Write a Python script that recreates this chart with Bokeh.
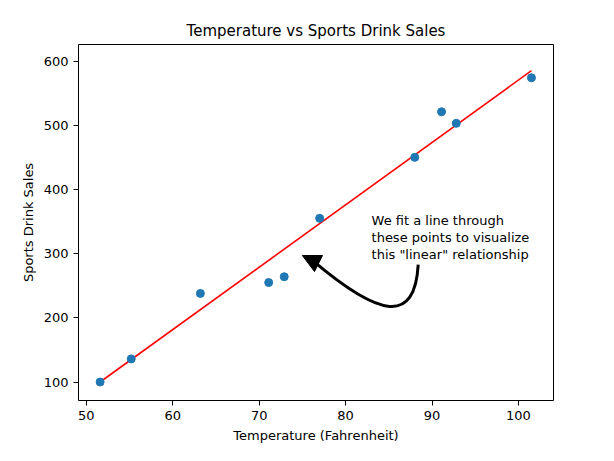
from bokeh.plotting import figure
from bokeh.embed import file_html
from bokeh.resources import INLINE
from bokeh.models import Range1d, Arrow, NormalHead, Label, FixedTicker

temps = [51.6, 55.2, 63.2, 71.1, 72.9, 77.0, 88.0, 91.1, 92.8, 101.5]
sales = [100, 136, 238, 255, 264, 355, 450, 521, 503, 574]
fit_x = [51.6, 101.5]
fit_y = [100, 585]

p = figure(width=598, height=445, output_backend="svg", toolbar_location=None,
           title="Temperature vs Sports Drink Sales",
           x_range=Range1d(49.1, 104.05), y_range=Range1d(71.2, 625.8),
           min_border_left=78, min_border_right=45, min_border_bottom=35, min_border_top=44)
p.title.align = "center"
p.title.text_font = "DejaVu Sans"
p.title.text_font_style = "normal"
p.title.text_font_size = "15px"
p.title.text_color = "black"
p.grid.visible = False
p.outline_line_color = "black"
p.xaxis.ticker = FixedTicker(ticks=[50, 60, 70, 80, 90, 100])
p.yaxis.ticker = FixedTicker(ticks=[100, 200, 300, 400, 500, 600])
for ax in (p.xaxis[0], p.yaxis[0]):
    ax.major_label_text_font = "DejaVu Sans"
    ax.major_label_text_font_size = "13px"
    ax.major_label_text_color = "black"
    ax.axis_label_text_font = "DejaVu Sans"
    ax.axis_label_text_font_size = "13px"
    ax.axis_label_text_font_style = "normal"
    ax.axis_label_text_color = "black"
    ax.minor_tick_line_color = None
    ax.major_tick_line_color = "black"
    ax.major_tick_in = 0
    ax.major_tick_out = 5
    ax.axis_line_color = None
p.xaxis.axis_label = "Temperature (Fahrenheit)"
p.yaxis.axis_label = "Sports Drink Sales"

p.line(fit_x, fit_y, line_color="red", line_width=1.6)
p.scatter(temps, sales, size=8, color="#1f77b4")

# annotation arrow
x0, y0 = 88.4, 283
cx0, cy0 = 88.0, 190
cx1, cy1 = 84.0, 200
x1, y1 = 75.0, 297
p.bezier(x0=[x0], y0=[y0], x1=[x1 + 1.2], y1=[y1 - 8], cx0=[cx0], cy0=[cy0], cx1=[cx1], cy1=[cy1],
         line_color="black", line_width=3)
p.add_layout(Arrow(end=NormalHead(size=18, fill_color="black", line_color="black"),
                   x_start=x1 + 1.5, y_start=y1 - 10, x_end=x1, y_end=y1, line_width=3))
for i, t in enumerate(["We fit a line through", "these points to visualize", 'this "linear" relationship']):
    p.add_layout(Label(x=83.0, y=352 - i * 27, text=t, text_font="DejaVu Sans",
                       text_font_size="13px", text_baseline="middle", text_color="black"))

open("out.html", "w").write(file_html(p, INLINE))
